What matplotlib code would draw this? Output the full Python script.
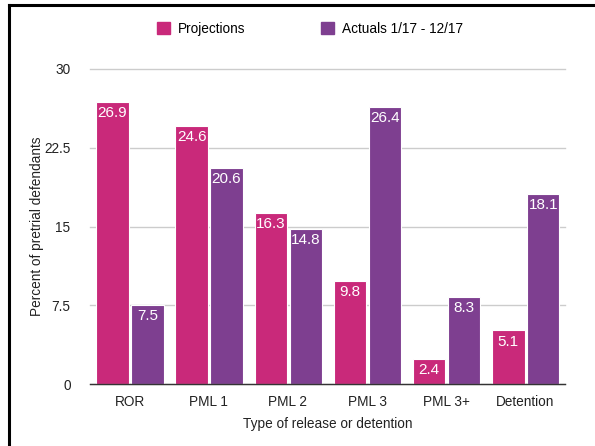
import matplotlib
matplotlib.use("Agg")
import matplotlib.pyplot as plt
import numpy as np
from matplotlib.patches import Patch
from matplotlib.lines import Line2D

plt.rcParams['font.family'] = ['Liberation Sans', 'DejaVu Sans']

categories = ["ROR", "PML 1", "PML 2", "PML 3", "PML 3+", "Detention"]
projections = [26.9, 24.6, 16.3, 9.8, 2.4, 5.1]
actuals = [7.5, 20.6, 14.8, 26.4, 8.3, 18.1]
series_names = ["Projections", "Actuals 1/17 - 12/17"]
yticks = [0, 7.5, 15, 22.5, 30]
ytick_labels = ["0", "7.5", "15", "22.5", "30"]

pink = "#C9297A"
purple = "#7E3F90"

fig = plt.figure(figsize=(5.95, 4.46), dpi=100)
ax = fig.add_axes([90/595, 1-384/446, 475/595, 315/446])

x = np.arange(len(categories))
w = 0.41
b1 = ax.bar(x - 0.215, projections, w, color=pink, edgecolor="white", linewidth=0.8, zorder=3)
b2 = ax.bar(x + 0.225, actuals, w, color=purple, edgecolor="white", linewidth=0.8, zorder=3)

for bars, vals in ((b1, projections), (b2, actuals)):
    for r, v in zip(bars, vals):
        ax.text(r.get_x() + r.get_width()/2, v - 0.4, f"{v}", ha="center", va="top",
                color="white", fontsize=11, zorder=4)

ax.set_xlim(-0.5, len(categories) - 0.5)
ax.set_ylim(0, 30)
ax.set_yticks(yticks)
ax.set_yticklabels(ytick_labels)
ax.set_xticks(x)
ax.set_xticklabels(categories)
ax.tick_params(axis="both", length=0, labelsize=9.8, colors="#222222")
ax.tick_params(axis="y", pad=14)
ax.tick_params(axis="x", pad=8)
ax.grid(axis="y", color="#CCCCCC", linewidth=1, zorder=0)
ax.set_axisbelow(True)
for s in ["top", "right", "left"]:
    ax.spines[s].set_visible(False)
ax.spines["bottom"].set_color("#333333")
ax.spines["bottom"].set_linewidth(1)
ax.spines["bottom"].set_zorder(5)
for gl in ax.get_ygridlines():
    gl.set_clip_on(False)

ax.set_xlabel("Type of release or detention", fontsize=9.8, labelpad=6, color="#222222")
ax.set_ylabel("Percent of pretrial defendants", fontsize=9.8, labelpad=0, color="#222222")

handles = [Patch(facecolor=pink, edgecolor=pink), Patch(facecolor=purple, edgecolor=purple)]
leg = fig.legend(handles, series_names, loc="center", bbox_to_anchor=(310/595, 1-29/446),
                 ncol=2, frameon=False, fontsize=9.8, handlelength=1.0, handleheight=1.0,
                 handletextpad=0.6, columnspacing=5.5, borderaxespad=0)

# frame (top and left edges visible)
fig.add_artist(Line2D([8.5/595, 1.0], [1-4.5/446, 1-4.5/446], color="black", linewidth=2.2, transform=fig.transFigure))
fig.add_artist(Line2D([8.5/595, 8.5/595], [0, 1-4.5/446], color="black", linewidth=2.2, transform=fig.transFigure))

fig.savefig("out.png", dpi=100, facecolor="white")
